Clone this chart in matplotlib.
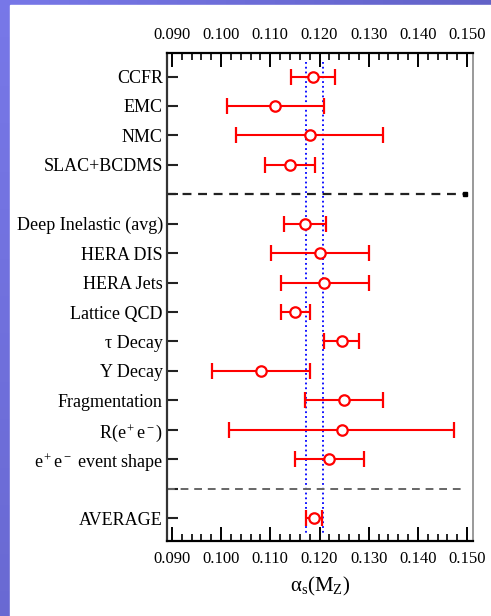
import numpy as np
import matplotlib
matplotlib.use('Agg')
import matplotlib.pyplot as plt
from matplotlib.ticker import MultipleLocator

plt.rcParams['font.family'] = ['Liberation Serif', 'DejaVu Serif']
plt.rcParams['mathtext.fontset'] = 'custom'
plt.rcParams['mathtext.rm'] = 'Liberation Serif'
plt.rcParams['mathtext.it'] = 'Liberation Serif:italic'

# measurements, top to bottom (None = separator row)
labels = ['CCFR', 'EMC', 'NMC', 'SLAC+BCDMS', '',
          'Deep Inelastic (avg)', 'HERA DIS', 'HERA Jets', 'Lattice QCD',
          'τ Decay', 'Υ Decay', 'Fragmentation', r'R(e$^+$e$^-$)',
          r'e$^+$e$^-$ event shape', '', 'AVERAGE']
values = [0.1186, 0.1110, 0.1180, 0.1140, None,
          0.1170, 0.1200, 0.1210, 0.1150,
          0.1245, 0.1081, 0.1249, 0.1245,
          0.1219, None, 0.1189]
err_lo = [0.1143, 0.1011, 0.1031, 0.1090, None,
          0.1128, 0.1101, 0.1122, 0.1122,
          0.1210, 0.0982, 0.1171, 0.1016,
          0.1150, None, 0.1172]
err_hi = [0.1231, 0.1209, 0.1329, 0.1190, None,
          0.1214, 0.1300, 0.1300, 0.1180,
          0.1280, 0.1180, 0.1329, 0.1473,
          0.1290, None, 0.1206]
band = [0.1172, 0.1207]

fig = plt.figure(figsize=(4.91, 6.16), dpi=100)

# slide background: blue gradient with white panel
bg = fig.add_axes([0, 0, 1, 1], zorder=-10)
gx, gy = np.meshgrid(np.linspace(0, 1, 50), np.linspace(0, 1, 50))
t = (gx * 0.6 + gy * 0.4)
c0 = np.array([0.47, 0.47, 0.91])
c1 = np.array([0.33, 0.33, 0.70])
img = c0[None, None, :] * (1 - t[..., None]) + c1[None, None, :] * t[..., None]
bg.imshow(img, extent=[0, 1, 0, 1], aspect='auto', origin='upper')
bg.add_patch(plt.Rectangle((10 / 491, 0), 1, (616 - 5) / 616, color='white'))
bg.set_xlim(0, 1)
bg.set_ylim(0, 1)
bg.axis('off')

ax = fig.add_axes([167 / 491, 75 / 616, 306 / 491, 488 / 616])
ax.set_xlim(0.0890, 0.1512)
ax.set_ylim(15.78, -0.80)

for i, v in enumerate(values):
    if v is None:
        continue
    ax.errorbar([v], [i], xerr=[[v - err_lo[i]], [err_hi[i] - v]],
                fmt='o', color='red', mfc='white', mec='red', ms=7.5, mew=1.6,
                lw=1.5, capsize=6, capthick=1.5, zorder=3)

for b in band:
    ax.plot([b, b], [-0.5, 15.5], color='blue', ls=':', lw=1.3, zorder=2)

ax.plot([0.0890, 0.1495], [4, 4], color='#222222', ls='--', lw=1.6, dashes=(4, 3))
ax.plot([0.1495], [4], marker='s', color='black', ms=2.5)
ax.plot([0.0890, 0.1495], [14, 14], color='#666666', ls='--', lw=1.4, dashes=(4, 3))

ax.set_yticks(range(len(labels)))
ax.set_yticklabels(labels, fontsize=13)
ax.tick_params(axis='y', direction='in', length=8, width=1.5, pad=3,
               color='#222222', left=True, right=False)

ax.xaxis.set_major_locator(MultipleLocator(0.01))
ax.xaxis.set_minor_locator(MultipleLocator(0.002))
ax.set_xticks(np.arange(0.09, 0.1501, 0.01))
ax.set_xticklabels(['%.3f' % v for v in np.arange(0.09, 0.1501, 0.01)])
ax.tick_params(axis='x', which='major', direction='in', length=10, width=1.4,
               top=True, bottom=True, labeltop=True, labelbottom=True,
               labelsize=12, pad=7)
ax.tick_params(axis='x', which='minor', direction='in', length=5, width=1.2,
               top=True, bottom=True)

for s in ['top', 'bottom']:
    ax.spines[s].set_linewidth(1.6)
ax.spines['left'].set_linewidth(1.6)
ax.spines['left'].set_color('#333333')
ax.spines['right'].set_linewidth(1.2)
ax.spines['right'].set_color('#888888')

ax.set_xlabel(r'$\mathregular{\alpha_s(M_Z)}$', fontsize=15, labelpad=6)

fig.savefig('out.png', dpi=100)
